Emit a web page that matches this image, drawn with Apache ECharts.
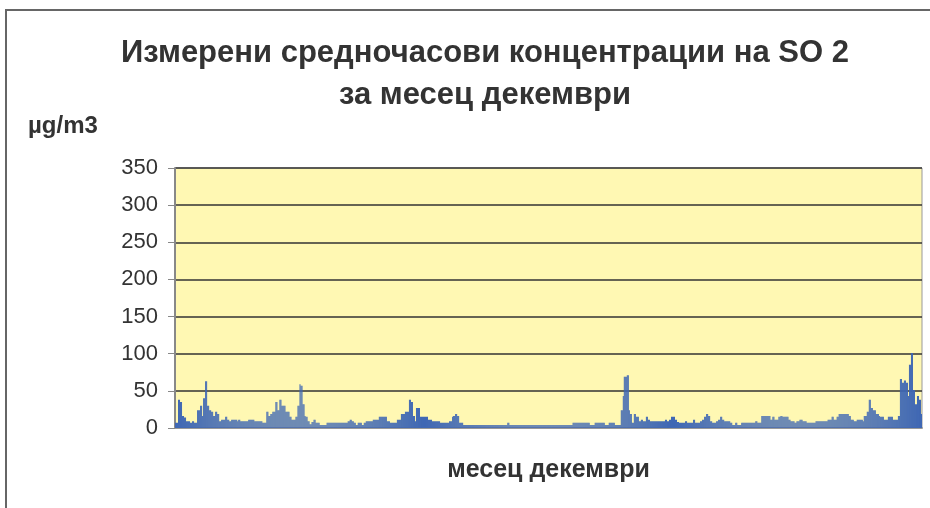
<!DOCTYPE html>
<html>
<head>
<meta charset="utf-8">
<script src="https://cdn.jsdelivr.net/npm/echarts@6/dist/echarts.min.js"></script>
<style>
  html, body { margin: 0; padding: 0; background: #fff; }
  #chart { width: 930px; height: 508px; }
</style>
</head>
<body>
<div id="chart"></div>
<script>
// часови стойности SO2, по 24 за всеки ден от декември
const so2 = [
  7,7,7,38,38,35,35,16,16,14,14,9,9,9,9,7,7,9,9,7,7,7,24,24,
  24,30,30,16,40,40,63,63,30,30,24,24,22,22,16,16,22,22,19,19,9,9,11,11,
  11,11,15,15,11,11,9,9,11,11,11,11,11,11,9,11,11,9,9,9,9,9,9,9,
  9,11,11,11,11,11,11,9,9,9,9,9,9,9,9,7,7,7,7,22,22,16,16,19,
  19,22,22,22,35,35,24,24,38,38,30,30,30,30,22,22,22,22,15,15,11,11,11,11,
  15,15,30,30,59,57,57,32,32,16,15,15,9,9,5,5,8,8,11,11,7,7,7,7,
  4,4,4,4,4,4,4,7,7,7,7,7,7,7,7,7,7,7,7,7,7,7,7,7,
  7,7,7,7,9,9,11,11,9,9,7,7,4,4,7,7,7,7,4,4,7,7,9,9,
  9,9,9,9,9,11,11,11,11,11,11,15,15,15,15,15,15,15,15,9,9,9,7,7,
  7,7,7,7,7,11,11,11,11,19,19,19,19,22,22,22,22,38,38,35,35,16,16,9,
  27,27,27,27,15,15,15,15,15,15,15,15,11,11,11,11,9,9,9,9,9,9,9,9,
  7,7,7,7,7,7,7,7,7,9,9,9,15,16,16,19,19,16,16,7,7,7,7,4,
  4,4,4,4,4,4,4,4,4,4,4,4,4,4,4,4,4,4,4,4,4,4,4,4,
  4,4,4,4,4,4,4,4,4,4,4,4,4,4,4,4,4,4,4,7,7,4,4,4,
  4,4,4,4,4,4,4,4,4,4,4,4,4,4,4,4,4,4,4,4,4,4,4,4,
  4,4,4,4,4,4,4,4,4,4,4,4,4,4,4,4,4,4,4,4,4,4,4,4,
  4,4,4,4,4,4,4,4,4,4,4,4,7,7,7,7,7,7,7,7,7,7,7,7,
  7,7,7,7,7,4,4,4,4,4,7,7,7,7,7,7,7,7,7,7,4,4,4,4,
  7,7,7,7,7,7,4,4,4,4,4,4,24,24,43,69,69,69,71,71,24,19,19,7,
  7,19,19,15,15,15,9,9,11,11,9,9,9,15,15,11,11,9,9,9,9,9,9,9,
  9,9,9,9,9,9,9,9,11,11,9,9,11,11,15,15,15,15,11,11,8,8,7,7,
  7,7,7,7,9,9,7,7,7,7,7,7,11,11,7,7,7,7,7,9,9,11,11,15,
  15,19,19,16,16,9,9,7,7,7,7,9,9,11,11,15,15,11,11,9,9,9,9,9,
  9,7,7,4,4,4,7,7,4,4,4,4,7,7,7,7,7,7,7,7,7,7,7,7,
  7,7,9,9,7,7,7,7,16,16,16,16,16,16,16,16,16,11,11,15,15,11,11,11,
  11,15,15,16,16,15,15,15,15,15,15,11,11,9,9,9,9,7,7,9,9,9,11,11,
  11,9,9,9,9,7,7,7,7,7,7,7,7,7,9,9,9,9,9,9,9,9,9,9,
  9,9,11,11,11,11,15,15,11,11,11,15,15,19,19,19,19,19,19,19,19,19,19,16,
  16,11,11,11,9,9,9,11,11,11,11,11,11,9,16,16,16,22,22,38,38,27,27,24,
  24,24,19,19,19,16,15,15,15,15,11,11,11,11,15,15,15,15,15,11,11,11,11,11,
  16,16,66,66,61,61,64,64,61,61,43,85,85,101,101,51,51,32,32,43,43,38,38,19
]
const hours = so2.map((v, i) => (Math.floor(i / 24) + 1) + '.12 ' + (i % 24) + 'ч')
const yTicks = [0, 50, 100, 150, 200, 250, 300, 350]

const myChart = echarts.init(document.getElementById('chart'))
const option = {
  animation: false,
  textStyle: { fontFamily: 'Liberation Sans, Arial, sans-serif' },
  title: {
    text: 'Измерени средночасови концентрации на SO 2\nза месец декември',
    left: 480,
    top: 27,
    textAlign: 'center',
    textStyle: { fontSize: 31, fontWeight: 'bold', color: '#333', lineHeight: 42 }
  },
  graphic: [
    {
      type: 'rect',
      shape: { x: 6, y: 10, width: 940, height: 520 },
      style: { fill: 'none', stroke: '#666', lineWidth: 2 }
    },
    {
      type: 'text',
      left: 28,
      top: 114,
      style: { text: 'µg/m3', font: 'bold 24px Liberation Sans, Arial', fill: '#333' }
    }
  ],
  grid: {
    left: 175, right: 8, top: 168, bottom: 80,
    show: true,
    backgroundColor: '#FFF8B3',
    borderColor: '#999',
    borderWidth: 1
  },
  xAxis: {
    type: 'category',
    data: hours,
    name: 'месец декември',
    nameLocation: 'middle',
    nameGap: 30,
    nameTextStyle: { fontSize: 25, fontWeight: 'bold', color: '#333' },
    axisLine: { lineStyle: { color: '#999', width: 2 } },
    axisTick: { show: false },
    axisLabel: { show: false }
  },
  yAxis: {
    type: 'value',
    min: yTicks[0],
    max: yTicks[yTicks.length - 1],
    interval: 50,
    axisLine: { show: true, lineStyle: { color: '#888', width: 2 } },
    axisTick: { show: true, length: 7, lineStyle: { color: '#888' } },
    axisLabel: { fontSize: 22, color: '#333', margin: 17 },
    splitLine: { lineStyle: { color: '#333', width: 1.5 } }
  },
  series: [
    {
      name: 'SO2',
      type: 'bar',
      data: so2,
      barCategoryGap: 0,
      itemStyle: { color: '#3F67B4' }
    }
  ]
}
myChart.setOption(option)
</script>
</body>
</html>
